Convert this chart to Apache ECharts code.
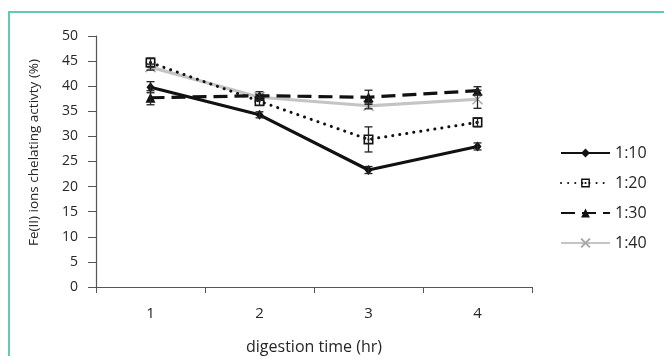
<!DOCTYPE html>
<html>
<head>
<meta charset="utf-8">
<script src="https://cdn.jsdelivr.net/npm/echarts@6/dist/echarts.min.js"></script>
<style>
  html, body { margin:0; padding:0; background:#fff; }
  #frame { position:absolute; left:8px; top:11px; width:700px; height:400px;
           border-left:2px solid #62c9b4; border-top:2px solid #62c9b4; }
  #chart { position:absolute; left:0; top:0; width:664px; height:356px; }
</style>
</head>
<body>
<div id="frame"></div>
<div id="chart"></div>
<script>
// ---- data ----
const categories = ['1', '2', '3', '4'];
const seriesNames = ['1:10', '1:20', '1:30', '1:40'];
const s10 = [39.8, 34.3, 23.3, 28.0];
const e10 = [1.1, 0.6, 0.7, 0.7];
const s20 = [44.7, 37.0, 29.4, 32.8];
const e20 = [0.9, 0.8, 2.5, 0.9];
const s30 = [37.7, 38.1, 37.8, 39.1];
const e30 = [1.4, 0.8, 1.4, 0.8];
const s40 = [43.8, 37.8, 36.1, 37.4];
const e40 = [0.6, 0.6, 0.6, 1.8];
const yMin = 0, yMax = 50, yStep = 5;

const fontFamily = '"Open Sans", "Noto Sans", sans-serif';
const axisColor = '#555';
const textColor = '#262626';

const squareDot = 'path://M0,0H10V10H0Z M1.6,1.6V8.4H8.4V1.6Z M4,4H6V6H4Z';
const crossPath = 'path://M0,0L10,10M10,0L0,10';

function errSeries(vals, errs) {
  return {
    type: 'custom',
    silent: true,
    z: 5,
    data: vals.map((v, i) => [i, v - errs[i], v + errs[i]]),
    renderItem: function (params, api) {
      const lo = api.coord([api.value(0), api.value(1)]);
      const hi = api.coord([api.value(0), api.value(2)]);
      const w = 4;
      const st = { stroke: '#222', lineWidth: 1.3 };
      return {
        type: 'group',
        children: [
          { type: 'line', shape: { x1: lo[0], y1: lo[1], x2: hi[0], y2: hi[1] }, style: st },
          { type: 'line', shape: { x1: lo[0] - w, y1: lo[1], x2: lo[0] + w, y2: lo[1] }, style: st },
          { type: 'line', shape: { x1: hi[0] - w, y1: hi[1], x2: hi[0] + w, y2: hi[1] }, style: st }
        ]
      };
    }
  };
}

const chart = echarts.init(document.getElementById('chart'), null, { renderer: 'canvas' });
chart.setOption({
  backgroundColor: 'transparent',
  animation: false,
  textStyle: { fontFamily: fontFamily },
  grid: { left: 96, right: 132, top: 36, bottom: 69, containLabel: false, outerBoundsMode: 'none' },
  legend: {
    orient: 'vertical',
    left: 560,
    top: 142,
    padding: 0,
    itemWidth: 49,
    itemHeight: 11,
    itemGap: 8,
    data: seriesNames,
    textStyle: { fontSize: 16, color: textColor, fontFamily: fontFamily, lineHeight: 22 }
  },
  xAxis: {
    type: 'category',
    data: categories,
    boundaryGap: true,
    name: 'digestion time (hr)',
    nameLocation: 'middle',
    nameGap: 52,
    nameTextStyle: { fontSize: 16, color: textColor },
    axisLine: { lineStyle: { color: axisColor, width: 1.2 } },
    axisTick: { show: true, length: 6, lineStyle: { color: axisColor } },
    axisLabel: { fontSize: 15, color: textColor, margin: 19 },
    splitLine: { show: false }
  },
  yAxis: {
    type: 'value',
    min: yMin, max: yMax, interval: yStep,
    name: 'Fe(II) ions chelating activty (%)',
    nameLocation: 'middle',
    nameGap: 55,
    nameTextStyle: { fontSize: 13.5, color: textColor, padding: [0, 0, 0, 18] },
    axisLine: { show: true, lineStyle: { color: axisColor, width: 1.2 } },
    axisTick: { show: true, length: 8, lineStyle: { color: axisColor } },
    axisLabel: { fontSize: 14, color: textColor, margin: 18 },
    splitLine: { show: false }
  },
  series: [
    {
      name: '1:10', type: 'line', data: s10, z: 4,
      lineStyle: { color: '#111', width: 3.2, type: 'solid' },
      itemStyle: { color: '#111' },
      symbol: 'diamond', symbolSize: [8, 10], showSymbol: true
    },
    {
      name: '1:20', type: 'line', data: s20, z: 3,
      lineStyle: { color: '#111', width: 3, type: [0.1, 7], cap: 'round' },
      itemStyle: { color: '#111' },
      symbol: squareDot, symbolSize: 10, showSymbol: true
    },
    {
      name: '1:30', type: 'line', data: s30, z: 3,
      lineStyle: { color: '#111', width: 3.2, type: [14, 7] },
      itemStyle: { color: '#111' },
      symbol: 'triangle', symbolSize: 10, showSymbol: true
    },
    {
      name: '1:40', type: 'line', data: s40, z: 2,
      lineStyle: { color: '#c4c4c4', width: 3.2, type: 'solid' },
      itemStyle: { color: '#b0b0b0', borderColor: '#a8a8a8', borderWidth: 1.5 },
      symbol: crossPath, symbolSize: 10, showSymbol: true
    },
    errSeries(s10, e10),
    errSeries(s20, e20),
    errSeries(s30, e30),
    errSeries(s40, e40)
  ]
});
</script>
</body>
</html>
